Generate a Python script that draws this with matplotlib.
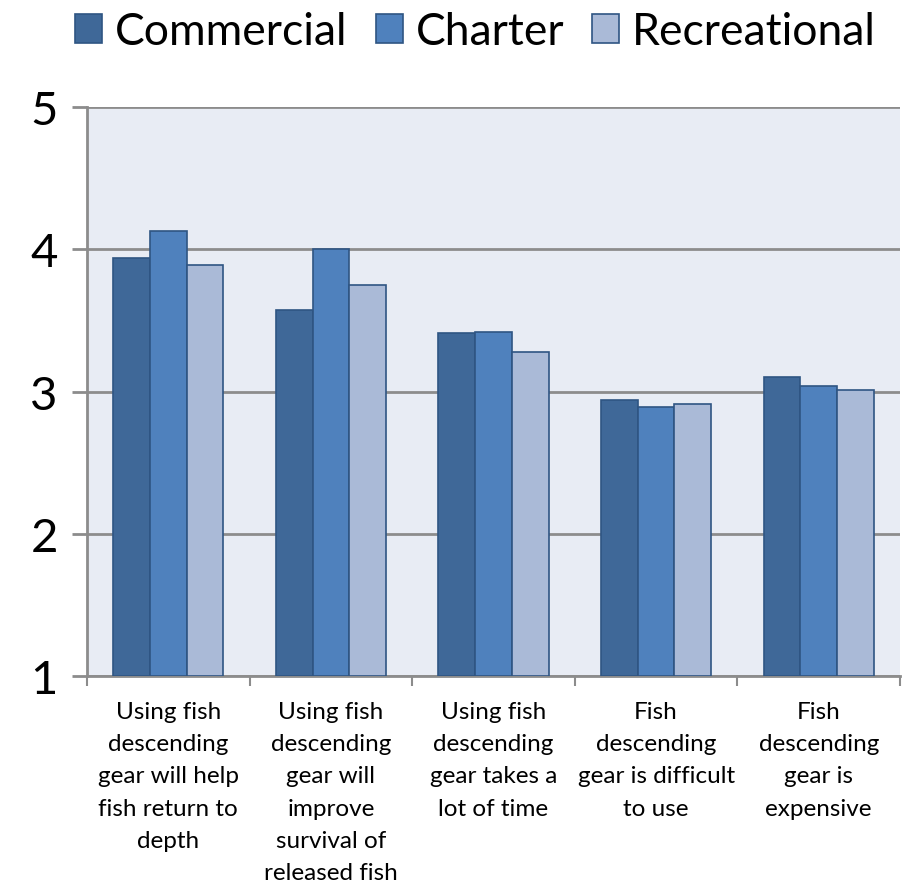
import matplotlib
matplotlib.use("Agg")
import matplotlib.pyplot as plt
import numpy as np
from matplotlib.patches import Patch

plt.rcParams['font.family'] = ['Lato', 'DejaVu Sans']

categories = [
    "Using fish\ndescending\ngear will help\nfish return to\ndepth",
    "Using fish\ndescending\ngear will\nimprove\nsurvival of\nreleased fish",
    "Using fish\ndescending\ngear takes a\nlot of time",
    "Fish\ndescending\ngear is difficult\nto use",
    "Fish\ndescending\ngear is\nexpensive",
]
series_names = ["Commercial", "Charter", "Recreational"]
commercial = [3.94, 3.57, 3.41, 2.94, 3.10]
charter = [4.13, 4.00, 3.42, 2.89, 3.04]
recreational = [3.89, 3.75, 3.28, 2.91, 3.01]
yticks = [1, 2, 3, 4, 5]

colors = ["#3F6898", "#4F81BD", "#AABAD7"]
edge = "#2F5583"

fig = plt.figure(figsize=(9.05, 8.87), dpi=100)
ax = fig.add_axes([87/905, 1-677/887, (900-87)/905, (677-108)/887])
ax.set_facecolor("#E8ECF4")

x = np.arange(len(categories))
w = 0.226
for i, (vals, c) in enumerate(zip([commercial, charter, recreational], colors)):
    ax.bar(x + (i-1)*w, np.array(vals)-1, bottom=1, width=w, color=c,
           edgecolor=edge, linewidth=1.2, zorder=3)

ax.set_xlim(-0.5, len(categories)-0.5)
ax.set_ylim(1, 5)
ax.set_yticks(yticks)
ax.set_yticklabels([str(t) for t in yticks], fontsize=34)
ax.yaxis.grid(True, color="#8C8C8C", linewidth=2, zorder=1)
ax.tick_params(axis='y', length=11, width=2, color="#8C8C8C", pad=10)

ax.set_xticks(np.arange(-0.5, len(categories)), minor=False)
ax.set_xticklabels([])
ax.set_xticks(x, minor=True)
ax.set_xticklabels(categories, minor=True, fontsize=17.5, linespacing=1.66)
ax.tick_params(axis='x', which='major', length=7, width=1.5, color="#8C8C8C")
ax.tick_params(axis='x', which='minor', length=0, pad=18)

for s in ['top', 'right']:
    ax.spines[s].set_visible(False)
for s in ['left', 'bottom']:
    ax.spines[s].set_color("#8C8C8C")
    ax.spines[s].set_linewidth(2)

handles = [Patch(facecolor=c, edgecolor=edge, linewidth=1.2) for c in colors]
fig.legend(handles, series_names, loc='upper left', bbox_to_anchor=(75/905, 1 - 12/887),
           ncol=3, frameon=False, fontsize=32, handlelength=0.61, handleheight=0.61,
           handletextpad=0.29, columnspacing=0.63, borderpad=0, borderaxespad=0)

fig.savefig("out.png", dpi=100)
